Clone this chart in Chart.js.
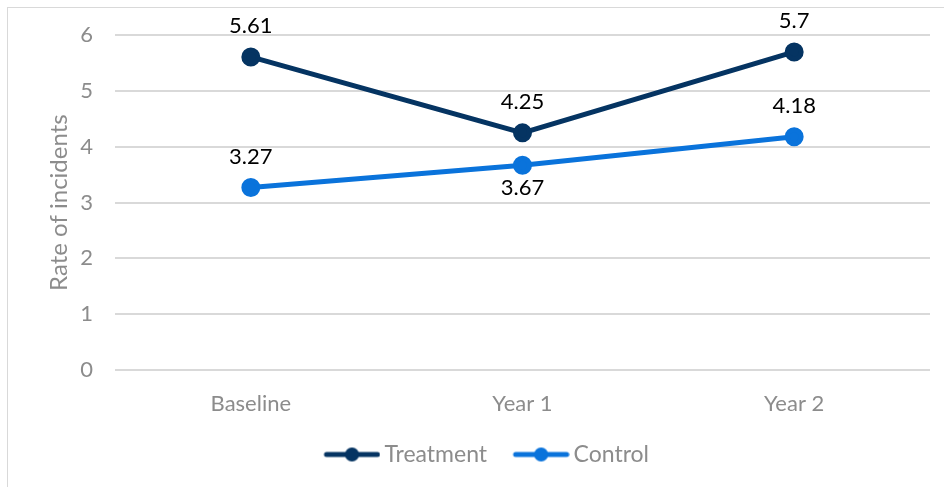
<!DOCTYPE html>
<html lang="en">
<head>
    <meta charset="UTF-8">
    <title>Rate of incidents</title>
    <script src="https://cdn.jsdelivr.net/npm/chart.js"></script>
    <style>
        body { margin: 0; background: #fff; overflow: hidden; }
        .frame { position: absolute; left: 7px; top: 7px; width: 960px; height: 500px; border: 1px solid #d9d9d9; }
        #grafico { position: absolute; left: 0; top: 0; }
    </style>
</head>
<body>
    <div class="frame"></div>
    <canvas id="grafico" width="944" height="487"></canvas>

    <script>
        // datos
        const categorias = ['Baseline', 'Year 1', 'Year 2'];
        const tratamiento = [5.61, 4.25, 5.7];
        const control = [3.27, 3.67, 4.18];
        const ticksY = [0, 1, 2, 3, 4, 5, 6];
        // donde va cada etiqueta (arriba / abajo del punto)
        const posTratamiento = ['above', 'above', 'above'];
        const posControl = ['above', 'below', 'above'];

        const colorTrat = '#053462';
        const colorCtrl = '#0a73db';
        const gris = '#8c8c8c';
        const fuente = 'Lato, "Open Sans", sans-serif';

        // icono de la leyenda: linea con punto (con margen a la izquierda para separar los items)
        function iconoLeyenda(color) {
            const c = document.createElement('canvas');
            c.width = 80; c.height = 16;
            const g = c.getContext('2d');
            const m = 23.5;
            g.strokeStyle = color;
            g.lineWidth = 5;
            g.lineCap = 'round';
            g.beginPath(); g.moveTo(m + 2.5, 8); g.lineTo(m + 53.5, 8); g.stroke();
            g.fillStyle = color;
            g.beginPath(); g.arc(m + 28, 8, 7, 0, Math.PI * 2); g.fill();
            return c;
        }

        const etiquetas = {
            id: 'etiquetas',
            afterDatasetsDraw(chart) {
                const ctx = chart.ctx;
                ctx.save();
                ctx.font = '22px ' + fuente;
                ctx.fillStyle = '#000';
                ctx.textAlign = 'center';
                ctx.textBaseline = 'middle';
                chart.data.datasets.forEach((ds, i) => {
                    const meta = chart.getDatasetMeta(i);
                    meta.data.forEach((p, j) => {
                        const dy = ds.posiciones[j] === 'below' ? 23 : -31;
                        ctx.fillText(String(ds.data[j]), p.x, p.y + dy);
                    });
                });
                ctx.restore();
            }
        };

        new Chart(document.getElementById('grafico'), {
            type: 'line',
            data: {
                labels: categorias,
                datasets: [
                    {
                        label: 'Treatment',
                        data: tratamiento,
                        posiciones: posTratamiento,
                        borderColor: colorTrat,
                        backgroundColor: colorTrat,
                        borderWidth: 5,
                        pointRadius: 7,
                        pointHoverRadius: 7,
                        tension: 0
                    },
                    {
                        label: 'Control',
                        data: control,
                        posiciones: posControl,
                        borderColor: colorCtrl,
                        backgroundColor: colorCtrl,
                        borderWidth: 5,
                        pointRadius: 7,
                        pointHoverRadius: 7,
                        tension: 0
                    }
                ]
            },
            options: {
                responsive: false,
                animation: false,
                layout: { padding: { left: 27, right: 14, top: 35, bottom: 11 } },
                plugins: {
                    tooltip: { enabled: false },
                    legend: {
                        position: 'bottom',
                        labels: {
                            usePointStyle: true,
                            pointStyleWidth: 65,
                            padding: 10,
                            color: gris,
                            font: { family: fuente, size: 23 },
                            generateLabels(chart) {
                                const items = Chart.defaults.plugins.legend.labels.generateLabels(chart);
                                items.forEach((it, i) => {
                                    it.pointStyle = iconoLeyenda(chart.data.datasets[i].borderColor);
                                });
                                return items;
                            }
                        }
                    }
                },
                scales: {
                    x: {
                        offset: true,
                        grid: { display: false, drawTicks: false },
                        border: { display: false },
                        ticks: { color: gris, padding: 21, font: { family: fuente, size: 22 } },
                        afterFit(scale) { scale.height = 63; }
                    },
                    y: {
                        min: ticksY[0],
                        max: ticksY[ticksY.length - 1],
                        afterBuildTicks(scale) { scale.ticks = ticksY.map(v => ({ value: v })); },
                        grid: { color: '#d9d9d9', lineWidth: 2, drawTicks: false },
                        border: { display: false },
                        ticks: { color: gris, padding: 22, font: { family: fuente, size: 22 } },
                        title: {
                            display: true,
                            text: 'Rate of incidents',
                            color: gris,
                            font: { family: fuente, size: 24 },
                            padding: { top: 18 }
                        },
                        afterFit(scale) { scale.width = 88; }
                    }
                }
            },
            plugins: [etiquetas]
        });
    </script>
</body>
</html>
